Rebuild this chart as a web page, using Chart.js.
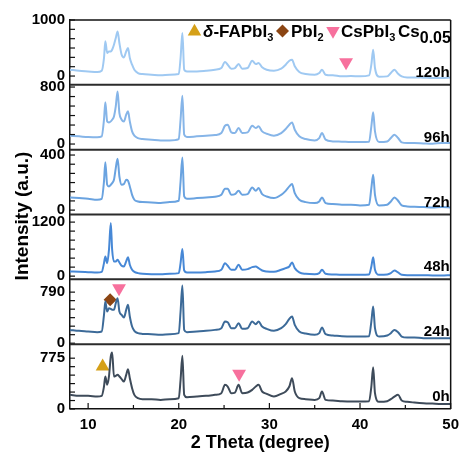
<!DOCTYPE html>
<html>
<head>
<meta charset="utf-8">
<script src="https://cdn.jsdelivr.net/npm/chart.js@4.4.1/dist/chart.umd.min.js"></script>
<style>
  html, body { margin: 0; padding: 0; background: #fff; }
  #wrap { width: 466px; height: 457px; }
</style>
</head>
<body>
<div id="wrap"><canvas id="xrd"></canvas></div>
<script>
// 2θ positions shared by every pattern
const twoTheta = [
    8, 9, 10, 11, 11.5, 11.75, 11.9, 12.1, 12.3, 12.5,
    12.65, 12.85, 13.05, 13.25, 13.45, 13.7, 13.95, 14.2, 14.4, 14.6,
    14.85, 15.1, 15.5, 16, 17, 18, 19, 20, 20.2, 20.4,
    20.6, 20.9, 22, 23, 24, 24.7, 25.1, 25.4, 25.8, 26.2,
    26.6, 27, 27.6, 28.1, 28.5, 28.8, 29.2, 29.7, 30.5, 31.3,
    31.8, 32.2, 32.5, 32.8, 33.3, 34, 35, 35.5, 35.8, 36.2,
    37, 38, 39, 40, 41, 41.25, 41.45, 41.65, 42.1, 43,
    43.4, 43.8, 44.2, 44.6, 45.2, 46, 47, 48, 49, 50
];

const int120h = [
    113, 95, 83, 71, 95, 321, 619, 411, 440, 440,
    470, 559, 678, 797, 589, 381, 333, 440, 500, 321,
    202, 113, 54, 36, 24, 12, 24, 36, 321, 768,
    113, 83, 83, 95, 113, 143, 250, 202, 131, 143,
    214, 131, 143, 274, 214, 232, 155, 113, 95, 131,
    202, 274, 292, 173, 71, 36, 24, 54, 113, 24,
    12, -6, 0, -6, 12, 202, 470, 143, -12, -6,
    54, 113, 40, -6, -24, -24, -30, -36, -36, -24
];
const int96h = [
    117, 108, 98, 94, 108, 342, 585, 318, 304, 318,
    342, 388, 529, 739, 435, 342, 318, 412, 459, 318,
    178, 117, 84, 70, 61, 51, 51, 70, 342, 679,
    131, 98, 108, 117, 126, 154, 257, 271, 164, 154,
    225, 154, 164, 257, 225, 248, 178, 145, 117, 154,
    211, 271, 304, 201, 108, 70, 51, 84, 154, 61,
    37, 33, 28, 28, 33, 248, 445, 178, 28, 37,
    84, 131, 84, 23, 14, 14, 9, 5, 14, 14
];
const int72h = [
    92, 87, 82, 75, 82, 208, 348, 184, 172, 184,
    196, 220, 305, 373, 244, 184, 189, 220, 213, 172,
    111, 75, 63, 58, 56, 51, 58, 68, 208, 382,
    99, 82, 87, 92, 97, 111, 155, 155, 111, 116,
    140, 111, 116, 165, 140, 160, 116, 99, 87, 111,
    140, 172, 189, 123, 75, 58, 51, 63, 92, 51,
    44, 39, 39, 34, 39, 160, 257, 111, 34, 39,
    63, 92, 68, 34, 27, 24, 22, 19, 22, 19
];
const int48h = [
    104, 96, 89, 82, 96, 289, 437, 289, 585, 1178,
    585, 326, 326, 363, 304, 230, 215, 326, 422, 252,
    141, 96, 67, 52, 44, 44, 52, 67, 289, 600,
    126, 82, 82, 89, 104, 141, 289, 230, 141, 141,
    252, 141, 156, 200, 215, 178, 126, 104, 96, 141,
    178, 215, 304, 178, 82, 52, 44, 67, 141, 52,
    37, 30, 30, 30, 37, 215, 422, 141, 30, 37,
    67, 126, 82, 30, 22, 22, 22, 15, 15, 22
];
const int24h = [
    206, 191, 181, 170, 181, 439, 645, 490, 542, 531,
    516, 516, 619, 697, 490, 439, 397, 516, 593, 413,
    258, 191, 155, 144, 139, 129, 139, 155, 490, 893,
    206, 170, 181, 191, 206, 232, 335, 325, 232, 232,
    310, 222, 232, 335, 294, 335, 258, 222, 191, 232,
    294, 377, 413, 284, 181, 150, 129, 155, 243, 139,
    119, 108, 103, 103, 108, 335, 568, 232, 103, 119,
    155, 206, 170, 103, 88, 88, 77, 77, 77, 77
];
const int0h = [
    216, 201, 201, 190, 201, 343, 496, 369, 496, 801,
    862, 496, 506, 521, 496, 455, 419, 521, 608, 470,
    318, 216, 165, 150, 150, 139, 150, 165, 445, 811,
    216, 180, 190, 201, 216, 241, 369, 343, 241, 251,
    369, 241, 251, 292, 343, 369, 267, 231, 190, 231,
    267, 343, 470, 267, 165, 150, 139, 165, 267, 139,
    129, 119, 114, 114, 119, 343, 638, 241, 109, 119,
    150, 190, 216, 129, 109, 99, 89, 83, 78, 78
];

// panels from top to bottom
const sampleLabels = ['120h', '96h', '72h', '48h', '24h', '0h'];
const patterns = [int120h, int96h, int72h, int48h, int24h, int0h];
const topTicks = [1000, 800, 400, 1200, 790, 775];
const axisMin = [-157, -79, -32, -71, -15, 0];
const axisMax = [1000, 831, 439, 1369, 988, 989];
const lineColors = ['#9fc9f2', '#86b5e8', '#6aa3e0', '#4788d6', '#3c6a98', '#3e4b5a'];

// phase markers: [2θ, intensity, panel index]
const fapbiMarks = [[11.6, 648, 5]];
const pbi2Marks = [[12.43, 671, 4]];
const cspbiMarks = [[13.41, 851, 4], [26.66, 537, 5], [38.46, 244, 0]];

const GOLD = '#d5a018';
const BROWN = '#8b4513';
const PINK = '#f7709d';
const FONT = '"Liberation Sans", Arial, sans-serif';

const panelIds = sampleLabels.map((_, i) => 'y' + i);

const datasets = patterns.map((ys, i) => ({
    label: sampleLabels[i],
    data: twoTheta.map((x, k) => ({ x, y: ys[k] })),
    yAxisID: panelIds[i],
    borderColor: lineColors[i],
    borderWidth: 2,
    pointRadius: 0,
    cubicInterpolationMode: 'monotone',
    fill: false
}));

function markerSets(marks, style, color, radius, rotation) {
    return marks.map(m => ({
        data: [{ x: m[0], y: m[1] }],
        yAxisID: panelIds[m[2]],
        showLine: false,
        pointStyle: style,
        pointRadius: radius,
        pointRotation: rotation,
        pointBackgroundColor: color,
        pointBorderWidth: 0
    }));
}
datasets.push(...markerSets(fapbiMarks, 'triangle', GOLD, 8, 0));
datasets.push(...markerSets(pbi2Marks, 'rectRot', BROWN, 6.5, 0));
datasets.push(...markerSets(cspbiMarks, 'triangle', PINK, 8, 180));

const scales = {
    x: {
        type: 'linear',
        min: 8,
        max: 50,
        grid: { display: false, drawTicks: false },
        border: { display: true, color: '#111', width: 1.5 },
        afterFit: s => { s.height = 46; },
        ticks: {
            stepSize: 5,
            includeBounds: false,
            autoSkip: false,
            maxRotation: 0,
            padding: 7,
            color: '#000',
            font: { family: FONT, size: 15, weight: 'bold' },
            callback: v => (v % 10 === 0 ? String(v) : '')
        },
        title: {
            display: true,
            text: '2 Theta (degree)',
            color: '#000',
            font: { family: FONT, size: 18, weight: 'bold' },
            padding: { top: 0, bottom: 1 }
        }
    }
};

panelIds.forEach((id, i) => {
    const top = topTicks[i];
    scales[id] = {
        type: 'linear',
        position: 'left',
        stack: 'xrd',
        stackWeight: 1,
        weight: 6 - i,
        min: axisMin[i],
        max: axisMax[i],
        grid: { display: false, drawTicks: false },
        border: { display: true, color: '#111', width: 1.5 },
        afterFit: s => { s.width = 40; },
        afterBuildTicks: s => {
            const t = [];
            for (let k = 0; k <= 6; k++) t.push({ value: top * k / 6 });
            s.ticks = t;
        },
        ticks: {
            autoSkip: false,
            padding: 5,
            color: '#000',
            font: { family: FONT, size: 15, weight: 'bold' },
            callback: v => (v === 0 || v === top ? String(v) : '')
        }
    };
});

function seg(ctx, x1, y1, x2, y2) {
    ctx.beginPath();
    ctx.moveTo(x1, y1);
    ctx.lineTo(x2, y2);
    ctx.stroke();
}

function triangle(ctx, cx, cy, r, down, color) {
    const d = down ? -1 : 1;
    ctx.fillStyle = color;
    ctx.beginPath();
    ctx.moveTo(cx, cy - d * r);
    ctx.lineTo(cx + r * 0.866, cy + d * r * 0.5);
    ctx.lineTo(cx - r * 0.866, cy + d * r * 0.5);
    ctx.closePath();
    ctx.fill();
}

function diamond(ctx, cx, cy, r, color) {
    ctx.fillStyle = color;
    ctx.beginPath();
    ctx.moveTo(cx, cy - r);
    ctx.lineTo(cx + r, cy);
    ctx.lineTo(cx, cy + r);
    ctx.lineTo(cx - r, cy);
    ctx.closePath();
    ctx.fill();
}

// write text pieces one after another: [text, font, baseline offset]
function runs(ctx, x, y, parts) {
    ctx.textAlign = 'left';
    ctx.textBaseline = 'alphabetic';
    parts.forEach(p => {
        ctx.font = p[1];
        ctx.fillText(p[0], x, y + p[2]);
        x += ctx.measureText(p[0]).width;
    });
    return x;
}

const framePlugin = {
    id: 'frame',
    afterDatasetsDraw(chart) {
        const { ctx, chartArea: a } = chart;
        ctx.save();
        ctx.strokeStyle = '#111';
        ctx.lineWidth = 1.2;
        panelIds.forEach(id => {
            const s = chart.scales[id];
            s.ticks.forEach(t => {
                const y = s.getPixelForValue(t.value);
                seg(ctx, a.left, y, a.left + 5, y);
            });
        });
        const xs = chart.scales.x;
        xs.ticks.forEach(t => {
            const x = xs.getPixelForValue(t.value);
            seg(ctx, x, a.bottom, x, a.bottom - (t.value % 10 === 0 ? 6 : 4));
        });

        // separators between the stacked patterns
        ctx.strokeStyle = '#2b2b2b';
        ctx.lineWidth = 2;
        panelIds.slice(0, -1).forEach(id => {
            const y = chart.scales[id].bottom;
            seg(ctx, a.left, y, a.right, y);
        });
        ctx.strokeStyle = '#111';
        ctx.lineWidth = 1.5;
        seg(ctx, a.left, a.top, a.right, a.top);
        seg(ctx, a.right, a.top, a.right, a.bottom);

        // sample labels
        ctx.fillStyle = '#000';
        ctx.font = 'bold 15px ' + FONT;
        ctx.textAlign = 'right';
        ctx.textBaseline = 'alphabetic';
        panelIds.forEach((id, i) => {
            ctx.fillText(sampleLabels[i], a.right - 1, chart.scales[id].bottom - 8);
        });
        ctx.restore();
    },
    afterDraw(chart) {
        const { ctx } = chart;
        ctx.save();
        ctx.fillStyle = '#000';

        // y title
        ctx.translate(23, 216);
        ctx.rotate(-Math.PI / 2);
        ctx.font = 'bold 19px ' + FONT;
        ctx.textAlign = 'center';
        ctx.textBaseline = 'middle';
        ctx.fillText('Intensity (a.u.)', 0, 0);
        ctx.setTransform(1, 0, 0, 1, 0, 0);

        // phase key along the top
        const main = 'bold 17px ' + FONT;
        const ital = 'italic bold 17px ' + FONT;
        const sub = 'bold 11px ' + FONT;
        const base = 37;
        triangle(ctx, 194.5, 31.5, 7.8, false, GOLD);
        ctx.fillStyle = '#000';
        runs(ctx, 203, base, [['δ', ital, 0], ['-FAPbI', main, 0], ['3', sub, 4]]);
        diamond(ctx, 282.5, 31, 6.5, BROWN);
        ctx.fillStyle = '#000';
        runs(ctx, 291, base, [['PbI', main, 0], ['2', sub, 4]]);
        triangle(ctx, 333, 31, 7.8, true, PINK);
        ctx.fillStyle = '#000';
        runs(ctx, 341, base, [['CsPbI', main, 0], ['3', sub, 4]]);
        runs(ctx, 398, base, [['Cs', main, 0], ['0.05', 'bold 16px ' + FONT, 6]]);
        ctx.restore();
    }
};

new Chart(document.getElementById('xrd'), {
    type: 'line',
    data: { datasets },
    options: {
        responsive: true,
        maintainAspectRatio: false,
        animation: false,
        layout: { padding: { left: 30, right: 10, top: 20, bottom: 2 } },
        plugins: {
            legend: { display: false },
            tooltip: { enabled: false }
        },
        scales
    },
    plugins: [framePlugin]
});
</script>
</body>
</html>
